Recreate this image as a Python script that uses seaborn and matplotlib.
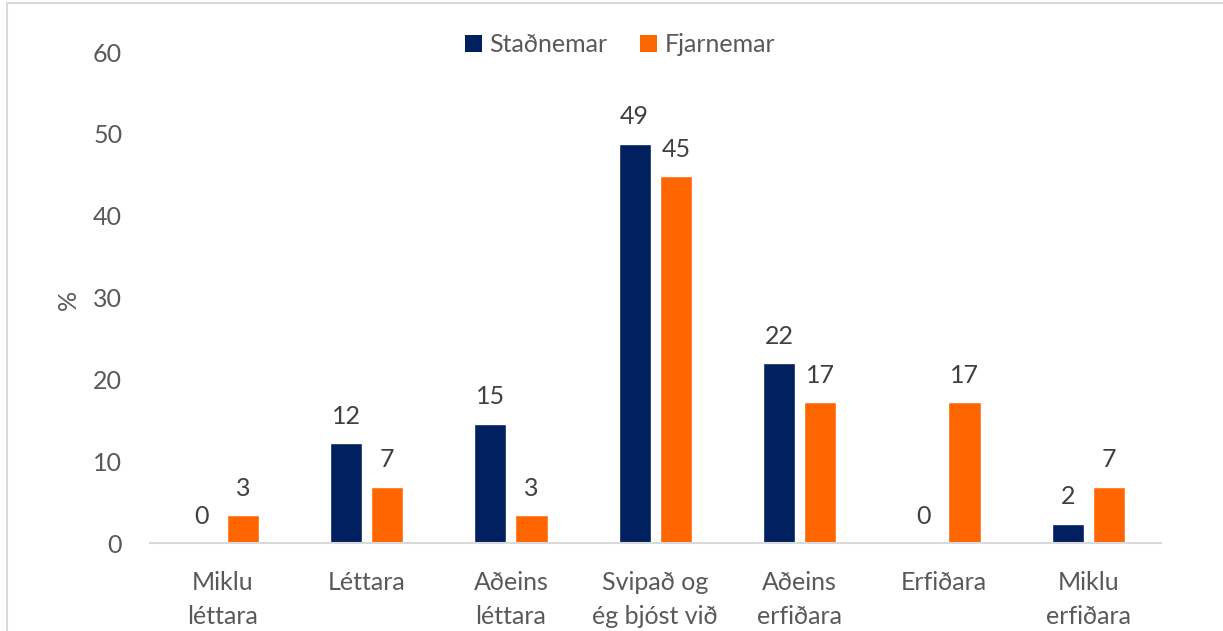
import matplotlib
matplotlib.use("Agg")
import matplotlib.pyplot as plt
from matplotlib.patches import Rectangle, Patch
import seaborn as sns
import pandas as pd

categories = ["Miklu\nléttara", "Léttara", "Aðeins\nléttara", "Svipað og\nég bjóst við",
              "Aðeins\nerfiðara", "Erfiðara", "Miklu\nerfiðara"]
groups = ["Staðnemar", "Fjarnemar"]
stadnemar = [0.0, 12.2, 14.6, 48.8, 22.0, 0.0, 2.4]
fjarnemar = [3.4, 6.9, 3.4, 44.8, 17.2, 17.2, 6.9]
y_ticks = [0, 10, 20, 30, 40, 50, 60]

navy = "#002060"
orange = "#FF6600"
tick_color = "#595959"
label_color = "#404040"

df = pd.DataFrame({
    "flokkur": categories * 2,
    "hópur": [groups[0]] * len(categories) + [groups[1]] * len(categories),
    "hlutfall": stadnemar + fjarnemar,
})

sns.set_style("white")
plt.rcParams["font.family"] = ["Lato", "DejaVu Sans"]
fs = 18

fig = plt.figure(figsize=(12.23, 6.31), dpi=100)
ax_left, ax_right = 150, 1160.5
ax = fig.add_axes([ax_left / 1223, 1 - 543.3 / 631, (ax_right - ax_left) / 1223, (543.3 - 52) / 631])

sns.barplot(data=df, x="flokkur", y="hlutfall", hue="hópur", hue_order=groups,
            palette=[navy, orange], width=0.57, gap=0.22, errorbar=None,
            saturation=1, ax=ax, legend=False)

ax.set_ylim(0, 60)
ax.set_yticks(y_ticks)
ax.set_xlim(-0.5, len(categories) - 0.5)
ax.set_xlabel("")
ax.set_ylabel("%", fontsize=fs, color=tick_color)
ax.yaxis.label.set_verticalalignment("center")
ax.yaxis.set_label_coords((68 - ax_left) / (ax_right - ax_left), 0.495)

for s in ["top", "right", "left"]:
    ax.spines[s].set_visible(False)
ax.spines["bottom"].set_color("#d9d9d9")
ax.spines["bottom"].set_linewidth(1.5)

ax.tick_params(axis="y", length=0, pad=20, labelsize=fs, labelcolor=tick_color)
ax.tick_params(axis="x", length=0, pad=20, labelsize=fs, labelcolor=tick_color)
for t in ax.get_xticklabels():
    t.set_linespacing(1.6)
    t.set_va("top")

# value labels above each bar
for container in ax.containers:
    for bar in container:
        h = bar.get_height()
        ax.annotate(f"{h:.0f}", (bar.get_x() + bar.get_width() / 2, h),
                    xytext=(0, 14), textcoords="offset points",
                    ha="center", va="baseline", fontsize=fs, color=label_color)

handles = [Patch(facecolor=navy, edgecolor="none"), Patch(facecolor=orange, edgecolor="none")]
fig.legend(handles, groups, loc="center", bbox_to_anchor=(620 / 1223, 1 - 45 / 631),
           ncol=2, frameon=False, fontsize=fs, handlelength=0.68, handleheight=0.68,
           handletextpad=0.3, columnspacing=1.3, labelcolor=tick_color)

# chart area border
fig.add_artist(Rectangle((7 / 1223, -0.1), 1.1, 1.1 - 3 / 631,
                         transform=fig.transFigure, fill=False,
                         edgecolor="#d9d9d9", linewidth=1.5))

fig.savefig("out.png", dpi=100)
